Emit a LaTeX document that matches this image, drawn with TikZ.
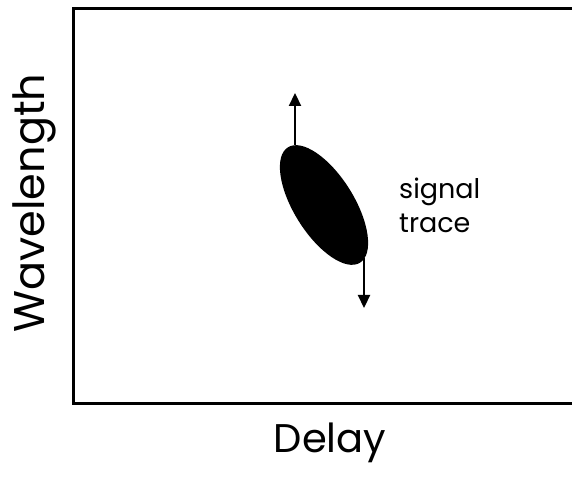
\documentclass[tikz,border=0pt]{standalone}
\usepackage{fontspec}
\setmainfont{Poppins}
\usetikzlibrary{arrows.meta}
\begin{document}
\begin{tikzpicture}[x=1pt,y=1pt,
  axisline/.style={line width=3pt},
  label/.style={inner sep=0pt},
  pointer/.style={line width=2.2pt,-{Triangle[length=13pt,width=12pt]}}]
\useasboundingbox (0,0) rectangle (572,476);
\clip (0,0) rectangle (572,476);
% plot frame (open to the right)
\draw[axisline] (580,467) -- (73,467) -- (73,72.5) -- (580,72.5);
% axis titles
\node[label,anchor=base,font=\fontsize{40}{48}\selectfont] (xlab) at (330,24) {Delay};
\node[label,anchor=base,rotate=90,font=\fontsize{43}{50}\selectfont] (ylab) at (44,273) {Wavelength};
% the trace blob
\fill[black] (324,271) circle[x radius=68, y radius=30, rotate=-58];
\coordinate (upstart) at (295,331);
\coordinate (uptip) at (295,383);
\coordinate (downstart) at (364,218);
\coordinate (downtip) at (364,168);
\draw[pointer] (upstart) -- (uptip);
\draw[pointer] (downstart) -- (downtip);
% annotation
\node[label,anchor=base west,align=left,font=\fontsize{27}{34}\selectfont] (note) at (399,243) {signal\\trace};
\end{tikzpicture}
\end{document}
